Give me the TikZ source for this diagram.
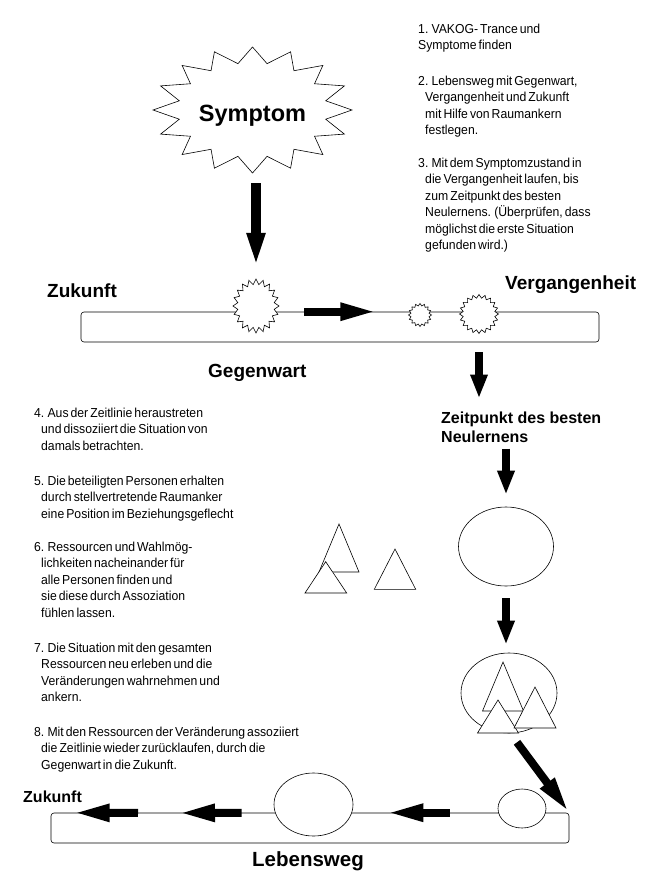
\documentclass[tikz,border=0pt]{standalone}
\usepackage{fontspec}
\setmainfont{Liberation Sans}
\newfontfamily\narrowfont[FakeStretch=0.94,WordSpace=0.6]{Liberation Sans}
\usetikzlibrary{positioning, arrows.meta, shapes.geometric}

% zackiger Stern um einen Punkt: [Stil]{Punkt}{x-Radius}{y-Radius}{Zacken}{Verhaeltnis}
\newcommand{\burst}[6][fill=white]{%
  \pgfmathsetmacro{\burststep}{180/#5}%
  \pgfmathtruncatemacro{\burstlast}{2*#5-1}%
  \draw[#1, line width=0.6pt, shift={(#2)}] (90:#3 and #4)
    \foreach \k in {1,...,\burstlast} {
      -- ({90+\k*\burststep}:{#3*(1-(1-#6)*mod(\k,2))} and {#4*(1-(1-#6)*mod(\k,2))})
    } -- cycle;
}

\begin{document}
\begin{tikzpicture}[x=1pt, y=-1pt,
  burstnode/.style={ellipse, inner sep=0pt},
  placenode/.style={ellipse, draw, line width=0.6pt, fill=white, inner sep=0pt},
  pathbox/.style={rectangle, draw, line width=0.6pt, rounded corners=3pt, minimum width=518pt, minimum height=30pt},
  tag/.style={inner sep=0pt, anchor=base west},
  steptext/.style={inner sep=0pt, anchor=north west, align=left, font=\narrowfont\fontsize{13}{16.5}\selectfont},
  longarrow/.style={line width=8pt, -{Triangle[length=37pt, width=16pt]}},
  shortarrow/.style={line width=8pt, -{Triangle[length=24pt, width=16pt]}},
  person/.style={draw, line width=0.6pt, fill=white}]
\fill[white] (0,0) rectangle (660,893);
\useasboundingbox (0,0) rectangle (660,893);

% Symptom und obere Zeitlinie
\coordinate (symptomc) at (252.5,110);
\burst[fill=none]{symptomc}{99.5}{63}{16}{0.75}
\node[burstnode, minimum width=199pt, minimum height=126pt, text depth=0pt, font=\bfseries\fontsize{23.5}{28}\selectfont] (symptom) at (252.5,113) {Symptom};
\node[pathbox] (timeline) at (340,327) {};
\node[burstnode, minimum width=46pt, minimum height=54pt] (now) at (256,306) {};
\burst{now}{23}{27}{20}{0.8}
\node[burstnode, minimum size=23pt] (past1) at (420,315) {};
\burst{past1}{11.5}{11.5}{16}{0.8}
\node[burstnode, minimum size=39pt] (past2) at (479,314) {};
\burst{past2}{19.5}{19.5}{20}{0.82}

\node[tag, font=\bfseries\fontsize{19}{22}\selectfont] (future) at (47,297) {Zukunft};
\node[tag, font=\bfseries\fontsize{19}{22}\selectfont] (past) at (505,289) {Vergangenheit};
\node[tag, font=\bfseries\fontsize{19}{22}\selectfont] (present) at (208,377) {Gegenwart};
\node[inner sep=0pt, anchor=north west, align=left, font=\bfseries\fontsize{16}{19}\selectfont] (learn) at (441,411.5) {Zeitpunkt des besten\\Neulernens};

% Schritte
\node[steptext] (step1) at (418,23.4) {1. VAKOG- Trance und\\Symptome finden};
\node[steptext] (step2) at (418,75.7) {2. Lebensweg mit Gegenwart,\\\hspace*{7pt}Vergangenheit und Zukunft\\\hspace*{7pt}mit Hilfe von Raumankern\\\hspace*{7pt}festlegen.};
\node[steptext] (step3) at (418,157.7) {3. Mit dem Symptomzustand in\\\hspace*{7pt}die Vergangenheit laufen, bis\\\hspace*{7pt}zum Zeitpunkt des besten\\\hspace*{7pt}Neulernens. (Überprüfen, dass\\\hspace*{7pt}möglichst die erste Situation\\\hspace*{7pt}gefunden wird.)};
\node[steptext] (step4) at (34,407.7) {4. Aus der Zeitlinie heraustreten\\\hspace*{7pt}und dissoziiert die Situation von\\\hspace*{7pt}damals betrachten.};
\node[steptext] (step5) at (34,475.7) {5. Die beteiligten Personen erhalten\\\hspace*{7pt}durch stellvertretende Raumanker\\\hspace*{7pt}eine Position im Beziehungsgeflecht};
\node[steptext] (step6) at (34,541.7) {6. Ressourcen und Wahlmög-\\\hspace*{7pt}lichkeiten nacheinander für\\\hspace*{7pt}alle Personen finden und\\\hspace*{7pt}sie diese durch Assoziation\\\hspace*{7pt}fühlen lassen.};
\node[steptext] (step7) at (34,642.7) {7. Die Situation mit den gesamten\\\hspace*{7pt}Ressourcen neu erleben und die\\\hspace*{7pt}Veränderungen wahrnehmen und\\\hspace*{7pt}ankern.};
\node[steptext] (step8) at (34,726.7) {8. Mit den Ressourcen der Veränderung assoziiert\\\hspace*{7pt}die Zeitlinie wieder zurücklaufen, durch die\\\hspace*{7pt}Gegenwart in die Zukunft.};

% Situation und Personen
\node[placenode, minimum width=95pt, minimum height=79pt] (scene) at (506,546.5) {};
\draw[person] (339,524) -- (359,572) -- (319,572) -- cycle;
\draw[person] (325.7,561.7) -- (346.7,593) -- (305,593) -- cycle;
\draw[person] (395,549) -- (415.7,589.3) -- (374.3,589.3) -- cycle;
\node[placenode, minimum width=96pt, minimum height=80pt] (change) at (509,693) {};
\draw[person] (503,662) -- (523.5,711) -- (482.5,711) -- cycle;
\draw[person] (498,700) -- (518.5,733) -- (477.5,733) -- cycle;
\draw[person] (535,687) -- (556,728) -- (514,728) -- cycle;

% untere Zeitlinie
\node[pathbox] (life) at (310,828) {};
\node[placenode, minimum width=79pt, minimum height=63pt] (newnow) at (313.5,804.5) {};
\node[placenode, minimum width=48pt, minimum height=39pt] (start) at (522,808.5) {};
\coordinate (gap) at (158,813);
\node[tag, font=\bfseries\fontsize{16}{19}\selectfont] (future2) at (23,802) {Zukunft};
\node[tag, font=\bfseries\fontsize{20.5}{24}\selectfont] (lifepath) at (252,866) {Lebensweg};

% Pfeile
\draw[longarrow, line width=10pt, shorten <=7pt, shorten >=9pt] (now.north |- symptom.south) -- (now.north);
\draw[longarrow, shorten <=25pt, shorten >=31pt] (now.east |- timeline.north) -- (past1.west |- timeline.north);
\draw[shortarrow, shorten <=10pt, shorten >=13pt] (past2.south |- timeline.south) -- (past2.south |- learn.north);
\draw[shortarrow, shorten <=6pt, shorten >=12pt] (scene.north |- learn.south) -- (scene.north);
\draw[shortarrow, shorten <=12pt, shorten >=8pt] (scene.south) -- (scene.south |- change.north);
\draw[longarrow] ([xshift=8pt, yshift=-9pt]change.south) -- (life.north east);
\draw[longarrow, shorten <=48pt, shorten >=33pt] (start.west |- life.north) -- (newnow.east |- life.north);
\draw[longarrow, shorten <=32pt, shorten >=20pt] (newnow.west |- life.north) -- (gap);
\draw[longarrow, shorten <=20pt, shorten >=22pt] (gap) -- (life.north west);
\end{tikzpicture}
\end{document}
